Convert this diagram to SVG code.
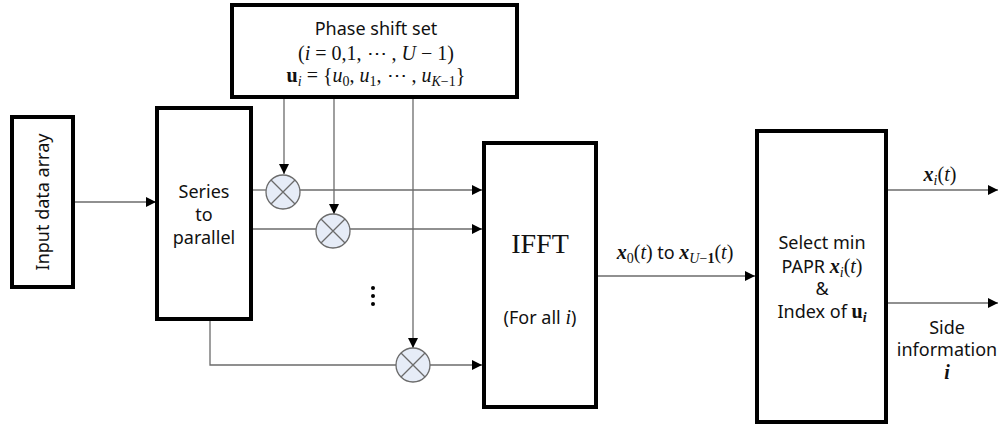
<svg xmlns="http://www.w3.org/2000/svg" width="1000" height="425" viewBox="0 0 1000 425">
<style>
.box{fill:#fff;stroke:#000;stroke-width:4}
.ln{fill:none;stroke:#6b6b6b;stroke-width:1.3}
.mul{fill:#e6ecf7;stroke:#6b6b6b;stroke-width:1.3}
.t{font-family:"Noto Sans","Open Sans",sans-serif;font-size:18px;fill:#111}
.m{font-family:"Liberation Serif","DejaVu Serif",serif;font-size:20px;fill:#111}
.i{font-style:italic}
.b{font-weight:bold}
.s{font-size:14px}
</style>
<defs>
<marker id="ah" viewBox="0 0 10 10" refX="10" refY="5" markerWidth="10" markerHeight="10" markerUnits="userSpaceOnUse" orient="auto">
<path d="M0,0 L10,5 L0,10 Z" fill="#000"/>
</marker>
</defs>
<g id="connectors">
<line class="ln" x1="75" y1="202" x2="156" y2="202" marker-end="url(#ah)"/>
<line class="ln" x1="284" y1="99" x2="284" y2="174" marker-end="url(#ah)"/>
<line class="ln" x1="334" y1="99" x2="334" y2="214" marker-end="url(#ah)"/>
<line class="ln" x1="413" y1="99" x2="413" y2="348" marker-end="url(#ah)"/>
<line class="ln" x1="253" y1="190" x2="266" y2="190"/>
<line class="ln" x1="300" y1="190" x2="482" y2="190" marker-end="url(#ah)"/>
<line class="ln" x1="253" y1="229" x2="316" y2="229"/>
<line class="ln" x1="350" y1="229" x2="482" y2="229" marker-end="url(#ah)"/>
<polyline class="ln" points="210,321 210,365 396,365"/>
<line class="ln" x1="430" y1="365" x2="482" y2="365" marker-end="url(#ah)"/>
<line class="ln" x1="598" y1="276" x2="755" y2="276" marker-end="url(#ah)"/>
<line class="ln" x1="888" y1="190" x2="998" y2="190" marker-end="url(#ah)"/>
<line class="ln" x1="888" y1="303" x2="998" y2="303" marker-end="url(#ah)"/>
</g>
<g id="mul1"><circle class="mul" cx="283" cy="192" r="17"/><path class="ln" d="M271,180 L295,204 M295,180 L271,204"/></g>
<g id="mul2"><circle class="mul" cx="333" cy="231" r="17"/><path class="ln" d="M321,219 L345,243 M345,219 L321,243"/></g>
<g id="mul3"><circle class="mul" cx="413" cy="365" r="17"/><path class="ln" d="M401,353 L425,377 M425,353 L401,377"/></g>
<g id="dots" fill="#000"><circle cx="373" cy="288" r="2"/><circle cx="373" cy="296" r="2"/><circle cx="373" cy="304" r="2"/></g>
<g id="phase">
<rect class="box" x="232" y="5" width="285" height="92"/>
<text class="t" x="376" y="35" text-anchor="middle">Phase shift set</text>
<text class="m" x="376" y="60" text-anchor="middle">(<tspan class="i">i</tspan> = 0,1, ⋯ , <tspan class="i">U</tspan> − 1)</text>
<text class="m" x="376" y="82" text-anchor="middle"><tspan class="b">u</tspan><tspan class="i s" dy="4">i</tspan><tspan dy="-4"> = {</tspan><tspan class="i">u</tspan><tspan class="s" dy="4">0</tspan><tspan dy="-4">, </tspan><tspan class="i">u</tspan><tspan class="s" dy="4">1</tspan><tspan dy="-4">, ⋯ , </tspan><tspan class="i">u</tspan><tspan class="s" dy="4"><tspan class="i">K</tspan>−1</tspan><tspan dy="-4">}</tspan></text>
</g>
<g id="input">
<rect class="box" x="12" y="117" width="61" height="170"/>
<text class="t" x="0" y="0" text-anchor="middle" transform="translate(49,202) rotate(-90)">Input data array</text>
</g>
<g id="s2p">
<rect class="box" x="157" y="108" width="94" height="211"/>
<text class="t" x="204" y="198" text-anchor="middle">Series</text>
<text class="t" x="204" y="221" text-anchor="middle">to</text>
<text class="t" x="204" y="244" text-anchor="middle">parallel</text>
</g>
<g id="ifft">
<rect class="box" x="484" y="143" width="112" height="264"/>
<text class="m" x="540" y="253" text-anchor="middle" style="font-size:28px">IFFT</text>
<text class="t" x="540" y="324" text-anchor="middle">(For all <tspan class="m i">i</tspan>)</text>
</g>
<g id="select">
<rect class="box" x="757" y="131" width="129" height="291"/>
<text class="t" x="822" y="249" text-anchor="middle">Select min</text>
<text class="t" x="822" y="273" text-anchor="middle">PAPR <tspan class="m i b">x</tspan><tspan class="m i s" dy="4">i</tspan><tspan class="m" dy="-4">(</tspan><tspan class="m i">t</tspan><tspan class="m">)</tspan></text>
<text class="t" x="822" y="295" text-anchor="middle">&amp;</text>
<text class="t" x="822" y="318" text-anchor="middle">Index of <tspan class="m b">u</tspan><tspan class="m i b s" dy="4">i</tspan></text>
</g>
<g id="labels">
<text class="m" x="675" y="259" text-anchor="middle"><tspan class="i b">x</tspan><tspan class="s" dy="4">0</tspan><tspan dy="-4">(</tspan><tspan class="i">t</tspan>)<tspan class="t"> to </tspan><tspan class="i b">x</tspan><tspan class="s" dy="4"><tspan class="i">U</tspan>−<tspan class="b">1</tspan></tspan><tspan dy="-4">(</tspan><tspan class="i">t</tspan>)</text>
<text class="m" x="940" y="181" text-anchor="middle"><tspan class="i b">x</tspan><tspan class="i s" dy="4">i</tspan><tspan dy="-4">(</tspan><tspan class="i">t</tspan>)</text>
<text class="t" x="947" y="334" text-anchor="middle">Side</text>
<text class="t" x="947" y="356" text-anchor="middle">information</text>
<text class="m i b" x="947" y="379" text-anchor="middle">i</text>
</g>
</svg>
